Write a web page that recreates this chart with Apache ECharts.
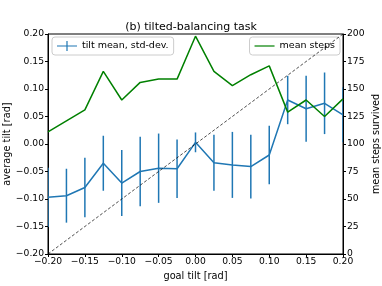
<!DOCTYPE html>
<html>
<head>
<meta charset="utf-8">
<script src="https://cdn.jsdelivr.net/npm/echarts@6/dist/echarts.min.js"></script>
<style>html,body{margin:0;padding:0;background:#fff}#c{width:382px;height:286px}</style>
</head>
<body>
<div id="c"></div>
<script>
const goalTilt = [-0.2,-0.175,-0.15,-0.125,-0.1,-0.075,-0.05,-0.025,0,0.025,0.05,0.075,0.1,0.125,0.15,0.175,0.2];
const tiltMean = [-0.097,-0.094,-0.079,-0.035,-0.071,-0.050,-0.044,-0.045,0.003,-0.034,-0.038,-0.041,-0.020,0.080,0.064,0.074,0.053];
const tiltStd  = [0.054,0.049,0.054,0.050,0.060,0.063,0.063,0.053,0.018,0.051,0.060,0.058,0.053,0.044,0.060,0.056,0.050];
const meanSteps = [111,121,131,166,140,156,159,159,198,166,153,163,171,129,140,125,141];
const xTicks = [-0.2,-0.15,-0.1,-0.05,0,0.05,0.1,0.15,0.2];

const fmt = v => { const r = Math.round(v*100)/100; return (r<0?'\u2212':'') + Math.abs(r).toFixed(2); };
const font = 'DejaVu Sans';
const blue = '#1f77b4';
const tickFont = 9.2;

const chart = echarts.init(document.getElementById('c'));
chart.setOption({
  animation: false,
  textStyle: {fontFamily: font},
  title: {text: '(b) tilted-balancing task', left: 'center', top: 17,
    textStyle: {fontFamily: font, fontSize: 11, fontWeight: 'normal', color: '#000'}},
  grid: {left: 48, right: 39, top: 34, bottom: 32, show: true, borderColor: '#000', borderWidth: 1,
    backgroundColor: 'transparent', containLabel: false, outerBoundsMode: 'none'},
  legend: [
    {data: [{name: 'tilt mean, std-dev.', icon: 'path://M0,4.4h20v1.2h-20z M9.4,0h1.2v10h-1.2z'}],
     left: 52, top: 37, itemWidth: 20, itemHeight: 10, itemGap: 4,
     padding: [4, 5, 4, 5], borderColor: '#ccc', borderWidth: 1, borderRadius: 3, backgroundColor: 'rgba(255,255,255,0.8)',
     textStyle: {fontFamily: font, fontSize: 9.5, color: '#000'}},
    {data: [{name: 'mean steps', icon: 'path://M0,4.4h20v1.2h-20z'}],
     right: 42, top: 37, itemWidth: 20, itemHeight: 10,
     padding: [4, 5, 4, 5], borderColor: '#ccc', borderWidth: 1, borderRadius: 3, backgroundColor: 'rgba(255,255,255,0.8)',
     textStyle: {fontFamily: font, fontSize: 9.5, color: '#000'}}
  ],
  xAxis: {type: 'value', min: -0.2, max: 0.2, interval: 0.05,
    name: 'goal tilt [rad]', nameLocation: 'middle', nameGap: 17, nameMoveOverlap: false,
    nameTextStyle: {fontFamily: font, fontSize: 9.8, color: '#000'},
    axisLine: {show: true, onZero: false, lineStyle: {color: '#000'}},
    axisTick: {show: true, length: 3, lineStyle: {color: '#000'}},
    axisLabel: {formatter: fmt, fontFamily: font, fontSize: tickFont, color: '#000', margin: 3, showMinLabel: true, showMaxLabel: true},
    splitLine: {show: false}},
  yAxis: [
    {type: 'value', min: -0.2, max: 0.2, interval: 0.05,
     name: 'average tilt [rad]', nameLocation: 'middle', nameGap: 36, nameRotate: 90, nameMoveOverlap: false,
     nameTextStyle: {fontFamily: font, fontSize: 9.8, color: '#000'},
     axisLine: {show: true, onZero: false, lineStyle: {color: '#000'}},
     axisTick: {show: true, length: 3, lineStyle: {color: '#000'}},
     axisLabel: {formatter: fmt, fontFamily: font, fontSize: tickFont, color: '#000', margin: 4},
     splitLine: {show: false}},
    {type: 'value', min: 0, max: 200, interval: 25, position: 'right',
     name: 'mean steps survived', nameLocation: 'middle', nameGap: 28, nameRotate: 90, nameMoveOverlap: false,
     nameTextStyle: {fontFamily: font, fontSize: 9.6, color: '#000'},
     axisLine: {show: true, onZero: false, lineStyle: {color: '#000'}},
     axisTick: {show: true, length: 3, lineStyle: {color: '#000'}},
     axisLabel: {fontFamily: font, fontSize: tickFont, color: '#000', margin: 4},
     splitLine: {show: false}}
  ],
  series: [
    {name: 'errbars', type: 'custom', yAxisIndex: 0, clip: true, z: 2,
     data: goalTilt.map((x, i) => [x, tiltMean[i] - tiltStd[i], tiltMean[i] + tiltStd[i]]),
     encode: {x: 0, y: [1, 2]},
     renderItem: (params, api) => {
       const lo = api.coord([api.value(0), api.value(1)]);
       const hi = api.coord([api.value(0), api.value(2)]);
       return {type: 'line', shape: {x1: lo[0], y1: lo[1], x2: hi[0], y2: hi[1]},
               style: {stroke: blue, lineWidth: 1.5}};
     }},
    {name: 'tilt mean, std-dev.', type: 'line', yAxisIndex: 0, z: 3,
     data: goalTilt.map((x, i) => [x, tiltMean[i]]),
     showSymbol: false, symbol: 'none', itemStyle: {color: blue}, lineStyle: {color: blue, width: 1.5}},
    {name: 'diag', type: 'line', yAxisIndex: 0, z: 4,
     data: [[-0.2, -0.2], [0.2, 0.2]], symbol: 'none',
     lineStyle: {color: '#000', width: 0.7, type: [3, 2]}},
    {name: 'mean steps', type: 'line', yAxisIndex: 1, z: 5,
     data: goalTilt.map((x, i) => [x, meanSteps[i]]),
     symbol: 'none', itemStyle: {color: '#008000'}, lineStyle: {color: '#008000', width: 1.5}}
  ]
});
</script>
</body>
</html>
